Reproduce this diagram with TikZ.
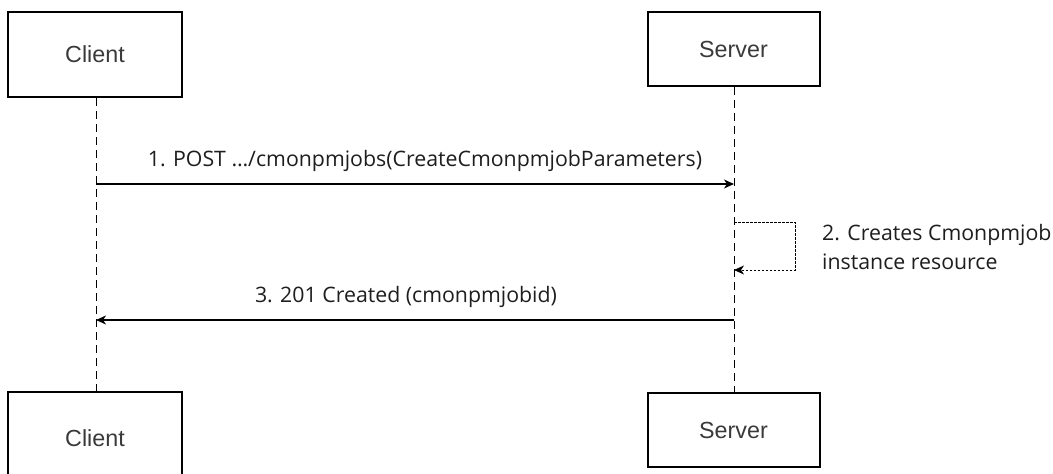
\documentclass[tikz,border=0pt]{standalone}
\usepackage{fontspec}
\setmainfont{Open Sans}
\newfontfamily\boxfont{Liberation Sans}
\usetikzlibrary{arrows.meta}
\definecolor{boxtext}{HTML}{3A3A3A}
\definecolor{msgtext}{HTML}{1E1E1E}
\tikzset{
  actor/.style={draw=black, line width=2pt, minimum width=174pt, minimum height=85pt, inner sep=0pt,
    font=\boxfont\fontsize{23.3}{26}\selectfont, text=boxtext},
  lifeline/.style={draw=black, line width=0.9pt, dash pattern=on 8pt off 5pt},
  msg/.style={draw=black, line width=1.1pt, -{Stealth[length=10pt,width=9pt,inset=3pt]}},
  selfmsg/.style={draw=black, line width=0.9pt, dash pattern=on 2.5pt off 1.5pt, -{Stealth[length=10pt,width=9pt,inset=3pt]}},
  msglabel/.style={font=\fontsize{21.3}{29}\selectfont, text=msgtext, inner sep=0pt}
}
\begin{document}
\begin{tikzpicture}[x=1pt,y=-1pt]
\useasboundingbox (0,0) rectangle (1053,474);
\fill[white] (0,0) rectangle (1053,474);
\begin{scope}
\clip (0,0) rectangle (1053,474);
\node[actor, minimum width=174pt, minimum height=85pt] (ct) at (95,54.5) {Client};
\node[actor, minimum width=172pt, minimum height=74pt] (st) at (733.5,49) {Server};
\node[actor, minimum width=174pt, minimum height=92pt] (cb) at (95,438) {Client};
\node[actor, minimum width=172pt, minimum height=74pt] (sb) at (733.5,430) {Server};
\end{scope}
\coordinate (cl) at (96,0);
\coordinate (sl) at (734,0);
\draw[lifeline] (cl |- ct.south) -- (cl |- cb.north);
\draw[lifeline] (sl |- st.south) -- (sl |- sb.north);
% message 1
\coordinate (m1c) at (96,184);
\coordinate (m1s) at (734,184);
\draw[msg] (m1c) -- (m1s);
\node[msglabel] (l1) at (425,161) {1. POST …/cmonpmjobs(CreateCmonpmjobParameters)};
% self message 2
\coordinate (m2a) at (734,222);
\coordinate (m2b) at (795,222);
\coordinate (m2c) at (795,270);
\coordinate (m2d) at (734,270);
\draw[selfmsg] (m2a) -- (m2b) -- (m2c) -- (m2d);
\node[msglabel, anchor=west, align=left] (l2) at (822,247.5) {2. Creates Cmonpmjob\\instance resource};
% message 3
\coordinate (m3s) at (734,320);
\coordinate (m3c) at (96,320);
\draw[msg] (m3s) -- (m3c);
\node[msglabel] (l3) at (406,297) {3. 201 Created (cmonpmjobid)};
\end{tikzpicture}
\end{document}
